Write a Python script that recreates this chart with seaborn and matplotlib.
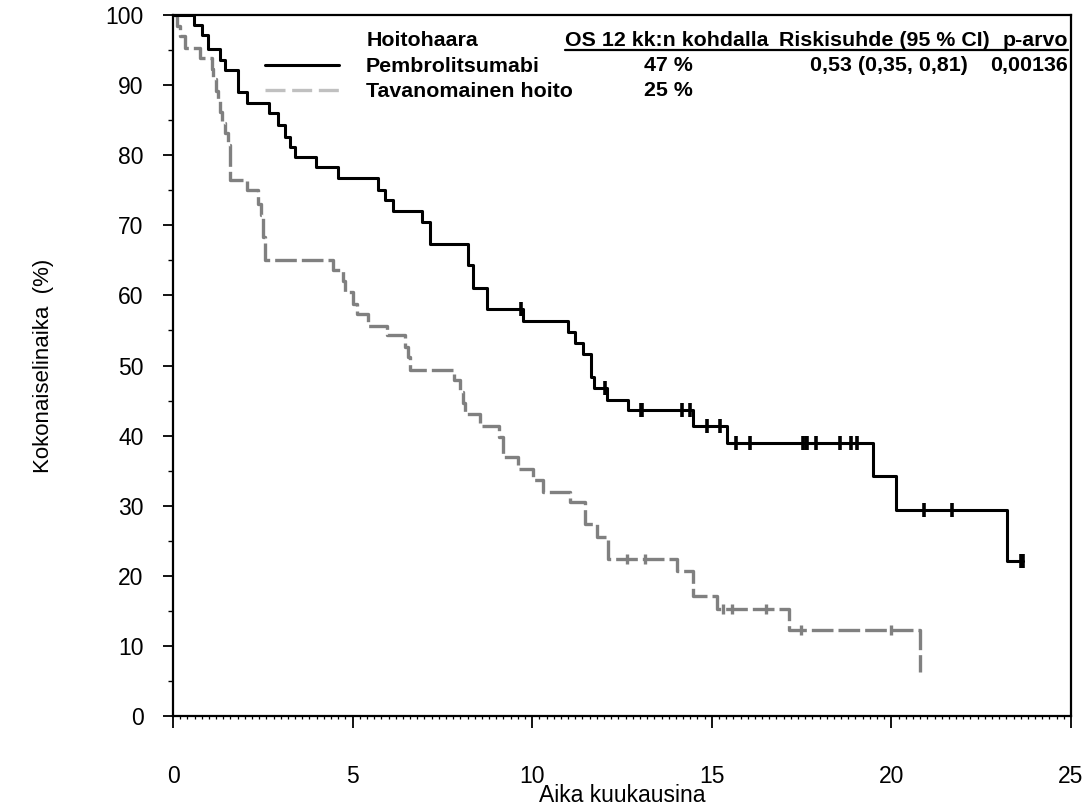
import numpy as np
import pandas as pd
import matplotlib
matplotlib.use("Agg")
import matplotlib.pyplot as plt
import seaborn as sns
from matplotlib.lines import Line2D
from matplotlib.ticker import MultipleLocator

# ---------------- data ----------------
pembro_time = [0, 0.58, 0.80, 0.98, 1.31, 1.45, 1.82, 2.05, 2.68, 2.93, 3.12, 3.26, 3.40,
               3.97, 4.60, 5.72, 5.90, 6.13, 6.94, 7.15, 8.20, 8.34, 8.73, 9.73, 11.01,
               11.19, 11.42, 11.63, 11.72, 12.07, 12.68, 14.47, 15.41, 19.50, 20.13, 23.23, 23.65]
pembro_surv = [100, 98.6, 97.1, 95.2, 93.6, 92.1, 89.0, 87.4, 86.0, 84.3, 82.6, 81.2, 79.8,
               78.3, 76.7, 75.0, 73.6, 72.0, 70.5, 67.4, 64.3, 61.1, 58.0, 56.4, 54.8,
               53.2, 51.6, 48.3, 46.8, 45.1, 43.6, 41.3, 39.0, 34.2, 29.4, 22.1, 22.1]
pembro_censor = [9.68, 12.03, 13.03, 13.07, 14.16, 14.39, 14.86, 15.23, 15.67, 16.06,
                 17.55, 17.61, 17.66, 17.89, 18.57, 18.87, 19.03, 20.91, 21.68, 23.60, 23.65]

std_time = [0, 0.10, 0.20, 0.33, 0.75, 1.08, 1.12, 1.20, 1.25, 1.31, 1.36, 1.45, 1.52, 1.59,
            2.05, 2.38, 2.45, 2.50, 2.55, 4.46, 4.74, 4.78, 5.01, 5.11, 5.44, 5.95, 6.46,
            6.55, 6.60, 7.82, 7.99, 8.08, 8.13, 8.55, 9.08, 9.19, 9.61, 10.03, 10.31, 11.05,
            11.47, 11.80, 12.12, 14.02, 14.49, 15.14, 17.16, 20.80]
std_surv = [100, 98.5, 97.0, 95.3, 93.8, 92.3, 90.8, 89.2, 87.7, 86.2, 84.6, 83.1, 81.5, 76.4,
            75.0, 73.0, 71.4, 68.3, 65.0, 63.6, 62.0, 60.5, 58.8, 57.3, 55.7, 54.3, 52.6,
            51.2, 49.3, 47.9, 46.2, 44.7, 43.1, 41.4, 39.8, 36.9, 35.2, 33.6, 32.0, 30.5,
            27.4, 25.6, 22.4, 20.7, 17.1, 15.2, 12.2, 6.3]
std_censor = [12.63, 13.14, 15.30, 15.55, 16.51, 17.47, 19.98]

x_ticks = [0, 5, 10, 15, 20, 25]
y_ticks = [0, 10, 20, 30, 40, 50, 60, 70, 80, 90, 100]

header_labels = ["Hoitohaara", "OS 12 kk:n kohdalla", "Riskisuhde (95 % CI)", "p-arvo"]
arm_names = ["Pembrolitsumabi", "Tavanomainen hoito"]
os12_labels = ["47 %", "25 %"]
hr_label = "0,53 (0,35, 0,81)"
p_label = "0,00136"
x_title = "Aika kuukausina"
y_title = "Kokonaiselinaika  (%)"


def surv_at(times, surv, pts):
    times = np.asarray(times)
    surv = np.asarray(surv)
    idx = np.searchsorted(times, np.asarray(pts), side="right") - 1
    return surv[idx]


# ---------------- figure ----------------
sns.set_theme(style="ticks")
plt.rcParams["font.family"] = ["Liberation Sans", "DejaVu Sans"]
plt.rcParams["text.color"] = "black"
plt.rcParams["axes.labelcolor"] = "black"
plt.rcParams["xtick.color"] = "black"
plt.rcParams["ytick.color"] = "black"

W, H = 1087, 811
fig = plt.figure(figsize=(W / 100, H / 100), dpi=100)
ax = fig.add_axes([173 / W, 1 - 716 / H, 898 / W, 701 / H])

black_df = pd.DataFrame({"t": pembro_time, "s": pembro_surv})
grey_df = pd.DataFrame({"t": std_time, "s": std_surv})

sns.lineplot(data=grey_df, x="t", y="s", estimator=None, sort=False, ax=ax,
             color="#808080", linewidth=2.4, drawstyle="steps-post",
             linestyle=(0, (6.5, 1.5)), zorder=3)
sns.lineplot(data=black_df, x="t", y="s", estimator=None, sort=False, ax=ax,
             color="black", linewidth=2.2, drawstyle="steps-post", zorder=4)

sns.scatterplot(x=std_censor, y=surv_at(std_time, std_surv, std_censor), ax=ax,
                marker="|", s=60, linewidth=2.4, color="#808080", zorder=5)
sns.scatterplot(x=pembro_censor, y=surv_at(pembro_time, pembro_surv, pembro_censor), ax=ax,
                marker="|", s=100, linewidth=2.6, color="black", zorder=6)

ax.set_xlim(0, 25)
ax.set_ylim(0, 100)
ax.set_xticks(x_ticks)
ax.set_yticks(y_ticks)
ax.set_xticklabels([str(v) for v in x_ticks])
ax.set_yticklabels([str(v) for v in y_ticks])
ax.xaxis.set_minor_locator(MultipleLocator(0.2))
ax.yaxis.set_minor_locator(MultipleLocator(5))

ax.tick_params(axis="x", which="major", direction="out", length=8.6, width=1.3,
               pad=26.5, labelsize=16.5)
ax.tick_params(axis="x", which="minor", direction="out", length=2.4, width=0.9)
ax.tick_params(axis="y", which="major", direction="out", length=7.2, width=1.3,
               pad=14, labelsize=16.5)
ax.tick_params(axis="y", which="minor", direction="out", length=3.6, width=1.0)

for sp in ax.spines.values():
    sp.set_visible(True)
    sp.set_linewidth(1.6)
    sp.set_color("black")

ax.set_xlabel(x_title, fontsize=16.5)
ax.set_ylabel(y_title, fontsize=16)
ax.xaxis.set_label_coords(0.5, -0.097)
ax.yaxis.set_label_coords(-0.133, 0.5)

# ---------------- legend / annotation table ----------------
def fx(px):
    return (px - 173) / 898


def fy(py):
    return 1 - (py - 15) / 701


FS = 15.4
handles = [Line2D([], [], color="black", linewidth=2.2),
           Line2D([], [], color="#c0c0c0", linewidth=2.4, linestyle=(0, (6, 2)))]
leg = ax.legend(handles, arm_names, loc="upper left", bbox_to_anchor=(fx(265), fy(57)),
                frameon=False, prop={"weight": "bold", "size": FS},
                handlelength=3.45, handletextpad=1.26, borderpad=0, borderaxespad=0,
                labelspacing=0.28)

bold = {"weight": "bold", "size": FS}
ax.text(fx(367), fy(40), header_labels[0], transform=ax.transAxes, ha="left", va="center", **bold)
ax.text(fx(565), fy(40), header_labels[1], transform=ax.transAxes, ha="left", va="center", **bold)
ax.text(fx(779), fy(40), header_labels[2], transform=ax.transAxes, ha="left", va="center", **bold)
ax.text(fx(1068), fy(40), header_labels[3], transform=ax.transAxes, ha="right", va="center", **bold)
ax.annotate("", xy=(fx(1068), fy(50)), xytext=(fx(565), fy(50)),
            xycoords="axes fraction", textcoords="axes fraction",
            arrowprops=dict(arrowstyle="-", lw=1.6, color="black", shrinkA=0, shrinkB=0))

ax.text(fx(668), fy(65), os12_labels[0], transform=ax.transAxes, ha="center", va="center", **bold)
ax.text(fx(668), fy(90), os12_labels[1], transform=ax.transAxes, ha="center", va="center", **bold)
ax.text(fx(889), fy(65), hr_label, transform=ax.transAxes, ha="center", va="center", **bold)
ax.text(fx(1068), fy(65), p_label, transform=ax.transAxes, ha="right", va="center", **bold)

fig.savefig("out.png", dpi=100)
